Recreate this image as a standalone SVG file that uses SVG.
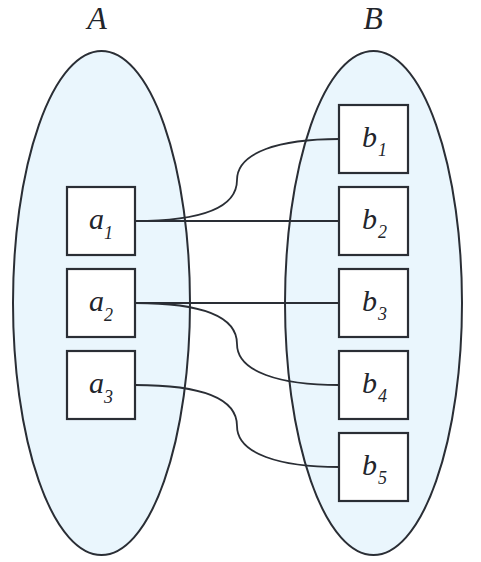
<svg xmlns="http://www.w3.org/2000/svg" width="481" height="562" viewBox="0 0 481 562">
<style>
.set{fill:#eaf6fd;stroke:#2a2e35;stroke-width:2}
.box{fill:#ffffff;stroke:#2a2e35;stroke-width:2.2}
.edge{fill:none;stroke:#2a2e35;stroke-width:1.8}
.t{font-family:"Liberation Serif","Times New Roman",serif;font-style:italic;fill:#22252b}
.big{font-size:32px}
.m{font-size:30px}
.s{font-size:18px}
</style>
<rect width="481" height="562" fill="#ffffff"/>
<g id="setA">
<ellipse class="set" cx="101.5" cy="303" rx="88.5" ry="252"/>
<text class="t big" x="97" y="29" text-anchor="middle">A</text>
</g>
<g id="setB">
<ellipse class="set" cx="373.5" cy="303" rx="88.5" ry="252"/>
<text class="t big" x="373" y="29" text-anchor="middle">B</text>
</g>
<g id="connectors">
<path class="edge" d="M135,221 C200,221 237,208 237,180 C237,152 280,139 339,139"/>
<path class="edge" d="M135,221 L339,221"/>
<path class="edge" d="M135,303 L339,303"/>
<path class="edge" d="M135,303 C200,303 237,316 237,344 C237,372 280,385 339,385"/>
<path class="edge" d="M135,385 C200,385 237,398 237,426 C237,454 280,467 339,467"/>
</g>
<g id="a1">
<rect class="box" x="67" y="187" width="68" height="68"/>
<text class="t" x="89" y="229"><tspan class="m">a</tspan><tspan class="s" dy="10">1</tspan></text>
</g>
<g id="a2">
<rect class="box" x="67" y="269" width="68" height="68"/>
<text class="t" x="89" y="311"><tspan class="m">a</tspan><tspan class="s" dy="10">2</tspan></text>
</g>
<g id="a3">
<rect class="box" x="67" y="351" width="68" height="68"/>
<text class="t" x="89" y="393"><tspan class="m">a</tspan><tspan class="s" dy="10">3</tspan></text>
</g>
<g id="b1">
<rect class="box" x="339" y="105" width="69" height="68"/>
<text class="t" x="362" y="147"><tspan class="m">b</tspan><tspan class="s" dx="1" dy="9">1</tspan></text>
</g>
<g id="b2">
<rect class="box" x="339" y="187" width="69" height="68"/>
<text class="t" x="362" y="229"><tspan class="m">b</tspan><tspan class="s" dx="1" dy="9">2</tspan></text>
</g>
<g id="b3">
<rect class="box" x="339" y="269" width="69" height="68"/>
<text class="t" x="362" y="311"><tspan class="m">b</tspan><tspan class="s" dx="1" dy="9">3</tspan></text>
</g>
<g id="b4">
<rect class="box" x="339" y="351" width="69" height="68"/>
<text class="t" x="362" y="393"><tspan class="m">b</tspan><tspan class="s" dx="1" dy="9">4</tspan></text>
</g>
<g id="b5">
<rect class="box" x="339" y="433" width="69" height="68"/>
<text class="t" x="362" y="475"><tspan class="m">b</tspan><tspan class="s" dx="1" dy="9">5</tspan></text>
</g>
</svg>
